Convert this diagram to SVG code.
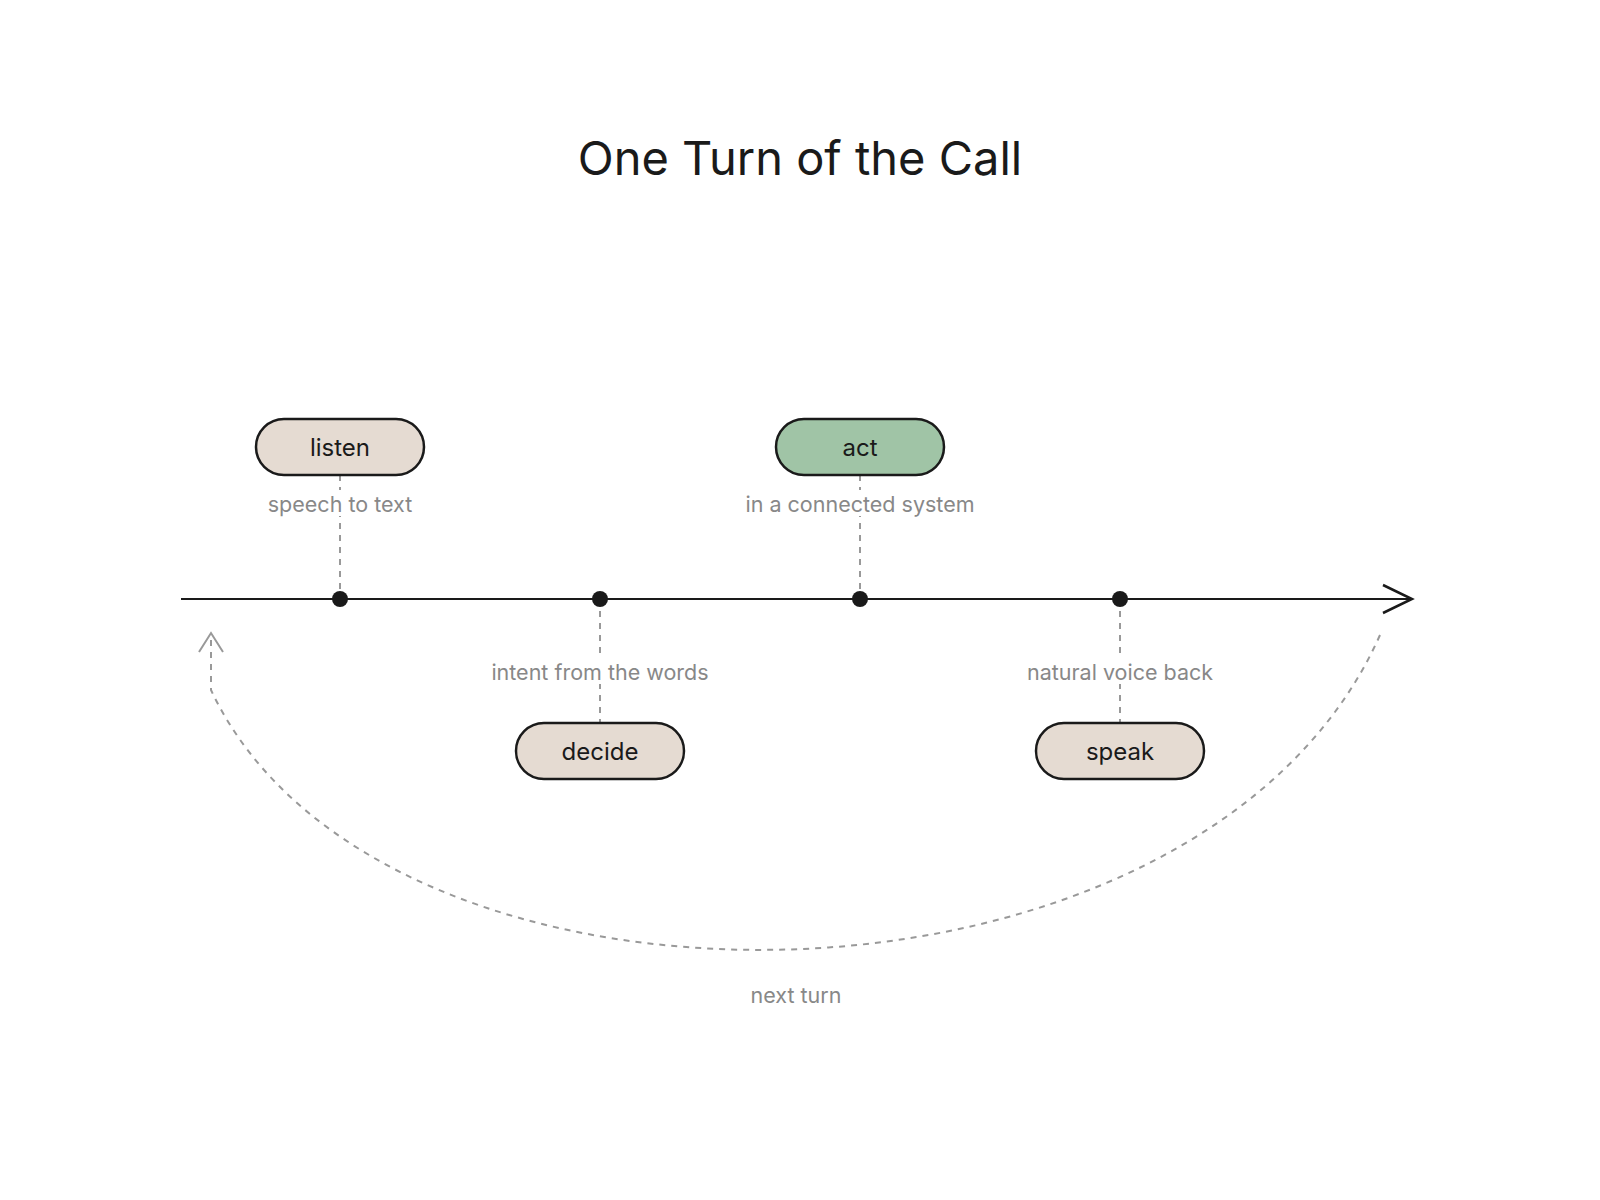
<svg xmlns="http://www.w3.org/2000/svg" width="1600" height="1200" viewBox="0 0 1600 1200">
<style>
.pill{fill:#e5dbd2;stroke:#1a1a1a;stroke-width:2.5}
.pt{font-family:Inter,"Liberation Sans",sans-serif;font-size:24px;fill:#1a1a1a;text-anchor:middle}
.lb{font-family:Inter,"Liberation Sans",sans-serif;font-size:21.5px;fill:#888;text-anchor:middle}
.dash{stroke:#999;stroke-width:2;stroke-dasharray:6 6;fill:none}
</style>
<rect width="1600" height="1200" fill="#fff"/>
<text x="800" y="175" font-family="Inter,'Liberation Sans',sans-serif" font-size="47" fill="#1a1a1a" text-anchor="middle">One Turn of the Call</text>
<g id="connectors">
<line x1="181" y1="599" x2="1412" y2="599" stroke="#1a1a1a" stroke-width="2"/>
<polyline points="1383,585 1412,599 1383,613" fill="none" stroke="#1a1a1a" stroke-width="2.5"/>
<line class="dash" x1="340" y1="475" x2="340" y2="599"/>
<line class="dash" x1="860" y1="475" x2="860" y2="599"/>
<line class="dash" x1="600" y1="599" x2="600" y2="723"/>
<line class="dash" x1="1120" y1="599" x2="1120" y2="723"/>
<path class="dash" d="M1380,635 C1200,1040 380,1050 211,690 L211,637"/>
<polyline points="199,652 211,633 223,652" fill="none" stroke="#999" stroke-width="2"/>
<circle cx="340" cy="599" r="8" fill="#1a1a1a"/>
<circle cx="600" cy="599" r="8" fill="#1a1a1a"/>
<circle cx="860" cy="599" r="8" fill="#1a1a1a"/>
<circle cx="1120" cy="599" r="8" fill="#1a1a1a"/>
</g>
<g id="listen"><rect class="pill" x="256" y="419" width="168" height="56" rx="28"/><text class="pt" x="340" y="456">listen</text>
<rect x="255" y="490" width="170" height="26" fill="#fff"/><text class="lb" x="340" y="512">speech to text</text></g>
<g id="act"><rect class="pill" style="fill:#a0c4a6" x="776" y="419" width="168" height="56" rx="28"/><text class="pt" x="860" y="456">act</text>
<rect x="735" y="490" width="250" height="26" fill="#fff"/><text class="lb" x="860" y="512">in a connected system</text></g>
<g id="decide"><rect class="pill" x="516" y="723" width="168" height="56" rx="28"/><text class="pt" x="600" y="760">decide</text>
<rect x="480" y="658" width="240" height="26" fill="#fff"/><text class="lb" x="600" y="680">intent from the words</text></g>
<g id="speak"><rect class="pill" x="1036" y="723" width="168" height="56" rx="28"/><text class="pt" x="1120" y="760">speak</text>
<rect x="1015" y="658" width="210" height="26" fill="#fff"/><text class="lb" x="1120" y="680">natural voice back</text></g>
<text class="lb" x="796" y="1003">next turn</text>
</svg>
